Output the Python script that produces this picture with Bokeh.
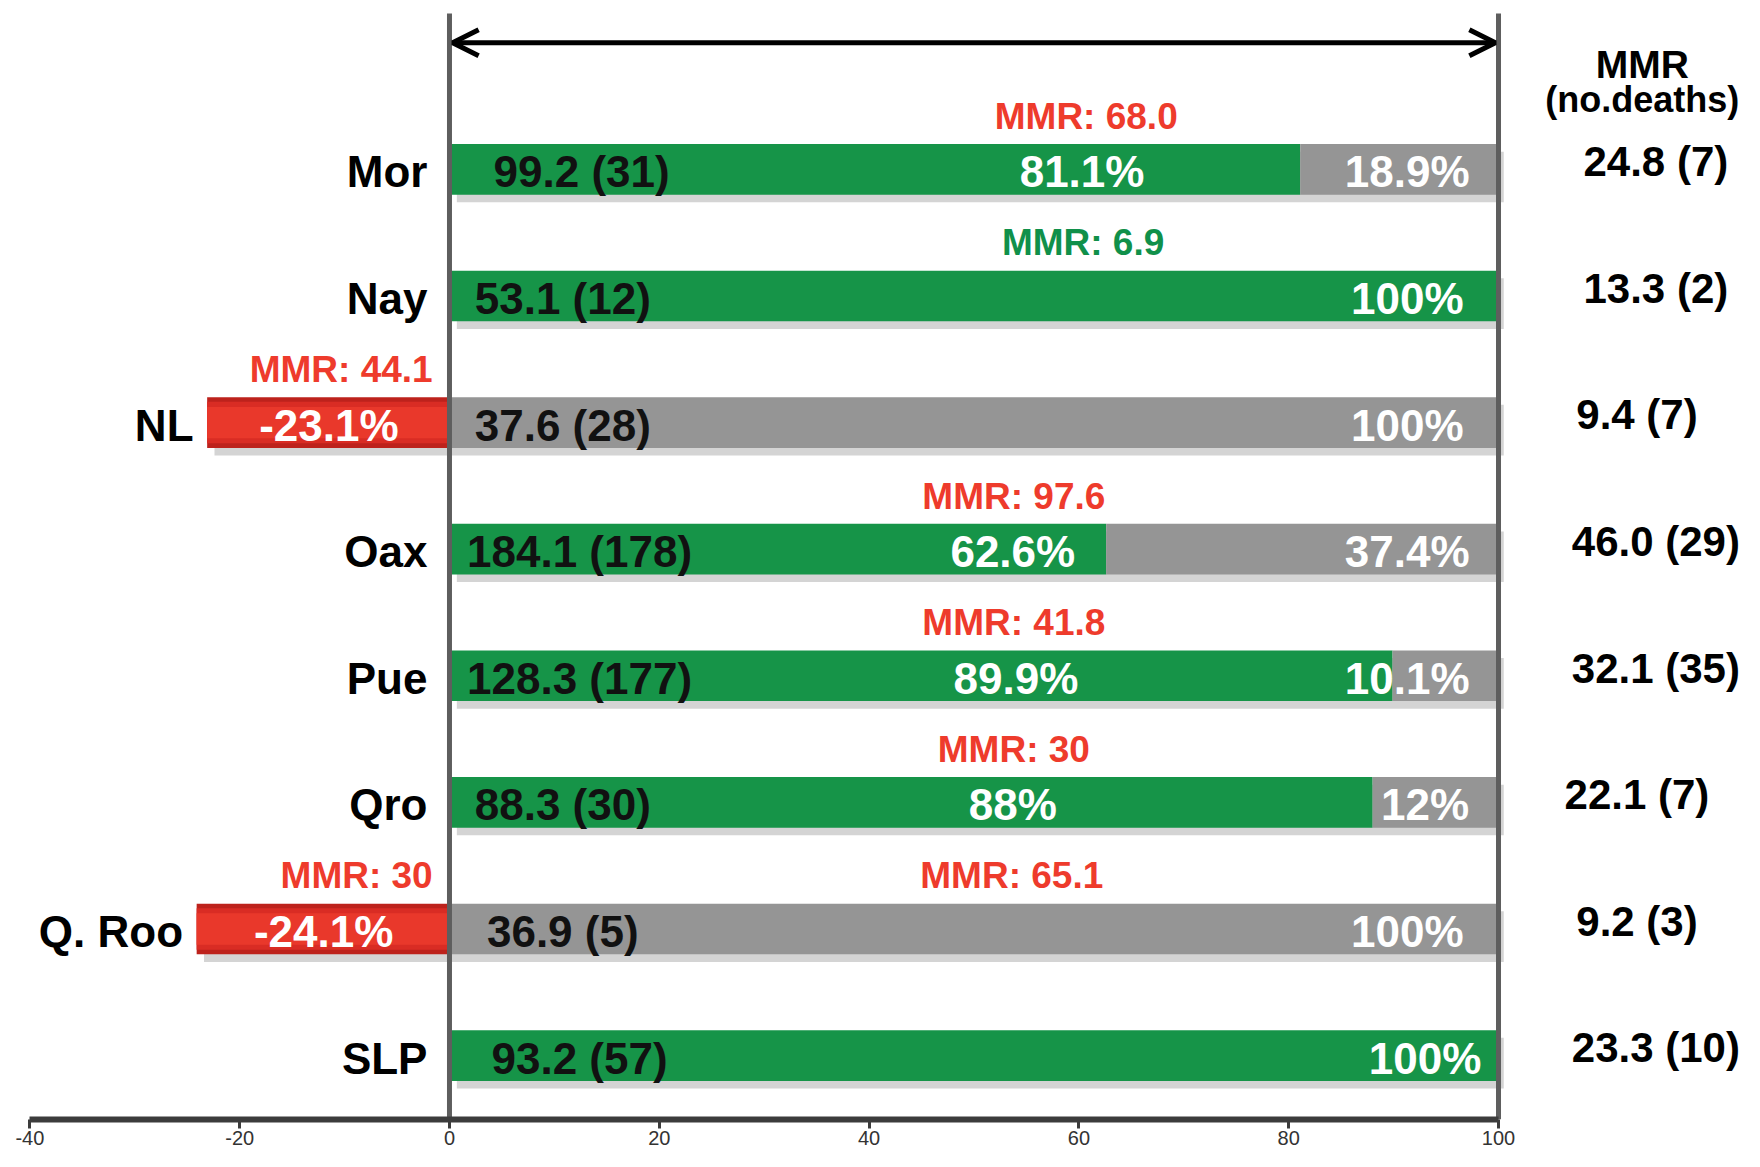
from bokeh.plotting import figure
from bokeh.models import ColumnDataSource, LinearAxis, FixedTicker, Arrow, OpenHead, Range1d
from bokeh.core.properties import value
from bokeh.embed import file_html
from bokeh.resources import INLINE

# ---------------- data ----------------
states = ["Mor", "Nay", "NL", "Oax", "Pue", "Qro", "Q. Roo", "SLP"]
mmr_bar = [99.2, 53.1, 37.6, 184.1, 128.3, 88.3, 36.9, 93.2]
deaths_bar = [31, 12, 28, 178, 177, 30, 5, 57]
green_pct = [81.1, 100, 0, 62.6, 89.9, 88, 0, 100]
gray_pct = [18.9, 0, 100, 37.4, 10.1, 12, 100, 0]
red_pct = [0, 0, -23.1, 0, 0, 0, -24.1, 0]
mmr_mid = ["68.0", "6.9", None, "97.6", "41.8", "30", "65.1", None]
mmr_mid_good = [False, True, False, False, False, False, False, False]
mmr_left = [None, None, "44.1", None, None, None, "30", None]
mmr_right = ["24.8", "13.3", "9.4", "46.0", "32.1", "22.1", "9.2", "23.3"]
deaths_right = [7, 2, 7, 29, 35, 7, 3, 10]
x_ticks = [-40, -20, 0, 20, 40, 60, 80, 100]
scale_min, scale_max = 0, 100

# ---------------- layout (label positions, not data) ----------------
inner_label_x = [12.6, 10.8, 10.8, 12.4, 12.4, 10.8, 10.8, 12.4]
green_label_x = [60.3, None, None, 53.7, 54.0, 53.7, None, None]
right_label_x = [91.3, 91.3, 91.3, 91.3, 91.3, 93.0, 91.3, 93.0]
mid_mmr_x = [60.7, 60.4, None, 53.8, 53.8, 53.8, 53.6, None]
right_col_x = [115.0, 115.0, 113.2, 115.0, 115.0, 113.2, 113.2, 115.0]

GREEN = "#169448"
GRAY = "#959595"
RED = "#e9382b"
RED_DARK = "#bd221c"
TXT_RED = "#ee3b2c"
TXT_GREEN = "#10904a"
SHADOW = "#d4d4d4"

W, H = 1744, 1151
n = len(states)
ys = [n - 1 - i for i in range(n)]
bar_h = 0.40
y_bottom, y_top_line = -0.505, 8.231


def pct(v):
    s = f"{v:.1f}"
    if s.endswith(".0"):
        s = s[:-2]
    return s + "%"


p = figure(width=W, height=H, output_backend="svg", toolbar_location=None,
           x_range=Range1d(-42.80, 123.45), y_range=Range1d(y_bottom, 8.334),
           x_axis_type=None, y_axis_type=None,
           min_border_left=0, min_border_right=0, min_border_top=0, min_border_bottom=32)
p.outline_line_color = None
p.background_fill_color = "white"
p.border_fill_color = "white"

# --------------- bars ----------------
g_src = dict(left=[], right=[], y=[])
gr_src = dict(left=[], right=[], y=[])
r_src = dict(left=[], right=[], y=[])
for i in range(n):
    if green_pct[i] > 0:
        g_src["left"].append(0); g_src["right"].append(green_pct[i]); g_src["y"].append(ys[i])
    if gray_pct[i] > 0:
        gr_src["left"].append(green_pct[i]); gr_src["right"].append(green_pct[i] + gray_pct[i]); gr_src["y"].append(ys[i])
    if red_pct[i] < 0:
        r_src["left"].append(red_pct[i]); r_src["right"].append(0); r_src["y"].append(ys[i])

# shadows
sh_left = [min(0, r) + 0.7 for r in red_pct]
sh_right = [g + gr + 0.5 for g, gr in zip(green_pct, gray_pct)]
p.quad(left=sh_left, right=sh_right, bottom=[y - bar_h / 2 - 0.06 for y in ys],
       top=[y + bar_h / 2 - 0.06 for y in ys], fill_color=SHADOW, line_color=None)

for src, col in ((g_src, GREEN), (gr_src, GRAY)):
    s = ColumnDataSource(src)
    p.hbar(y="y", left="left", right="right", height=bar_h, source=s, fill_color=col, line_color=None)

rs = ColumnDataSource(r_src)
p.hbar(y="y", left="left", right="right", height=bar_h, source=rs, fill_color=RED_DARK, line_color=None)
p.hbar(y="y", left="left", right="right", height=bar_h * 0.82, source=rs, fill_color="#d92c24", line_color=None)
p.hbar(y="y", left="left", right="right", height=bar_h * 0.62, source=rs, fill_color=RED, line_color=None)

# --------------- guide lines ----------------
p.segment(x0=[scale_min, scale_max], x1=[scale_min, scale_max], y0=[y_bottom, y_bottom],
          y1=[y_top_line, y_top_line], line_width=5, line_color="#5e5e5e")
arrow = Arrow(start=OpenHead(size=26, line_width=5, line_color="black"),
              end=OpenHead(size=26, line_width=5, line_color="black"),
              x_start=scale_min + 0.3, y_start=8.0, x_end=scale_max - 0.3, y_end=8.0,
              line_width=5, line_color="black")
p.add_layout(arrow)

BOLD = dict(text_font=value("Liberation Sans"), text_font_style="bold", text_baseline="middle")

# row labels
lab_x = [min(0, r) - (1.3 if r < 0 else 2.1) for r in red_pct]
p.text(x=lab_x, y=[y - 0.02 for y in ys], text=states, text_align="right",
       text_font_size="44px", text_color="black", **BOLD)

# inner MMR (deaths) labels
p.text(x=inner_label_x, y=[y - 0.02 for y in ys],
       text=[f"{m} ({d})" for m, d in zip(mmr_bar, deaths_bar)], text_align="center",
       text_font_size="44px", text_color="#111111", **BOLD)

# green-part percent labels
gx, gy, gt = [], [], []
for i in range(n):
    if 0 < green_pct[i] < 100:
        gx.append(green_label_x[i]); gy.append(ys[i] - 0.02); gt.append(pct(green_pct[i]))
p.text(x=gx, y=gy, text=gt, text_align="center", text_font_size="44px", text_color="white", **BOLD)

# right-part percent labels
rx, ry, rt = [], [], []
for i in range(n):
    v = gray_pct[i] if gray_pct[i] > 0 else green_pct[i]
    rx.append(right_label_x[i]); ry.append(ys[i] - 0.02); rt.append(pct(v))
p.text(x=rx, y=ry, text=rt, text_align="center", text_font_size="44px", text_color="white", **BOLD)

# red percent labels
nx, ny, nt = [], [], []
for i in range(n):
    if red_pct[i] < 0:
        nx.append(red_pct[i] / 2 + 0.05); ny.append(ys[i] - 0.02); nt.append(pct(red_pct[i]))
p.text(x=nx, y=ny, text=nt, text_align="center", text_font_size="44px", text_color="white", **BOLD)

# MMR labels above bars
mx, my, mt, mc = [], [], [], []
for i in range(n):
    if mmr_mid[i] is not None:
        mx.append(mid_mmr_x[i]); my.append(ys[i] + 0.42); mt.append(f"MMR: {mmr_mid[i]}")
        mc.append(TXT_GREEN if mmr_mid_good[i] else TXT_RED)
p.text(x=mx, y=my, text=mt, text_color=mc, text_align="center", text_font_size="37px", **BOLD)

lx, ly, lt = [], [], []
for i in range(n):
    if mmr_left[i] is not None:
        lx.append(-1.6); ly.append(ys[i] + 0.42); lt.append(f"MMR: {mmr_left[i]}")
p.text(x=lx, y=ly, text=lt, text_color=TXT_RED, text_align="right", text_font_size="37px", **BOLD)

# right column
p.text(x=right_col_x, y=[y + 0.06 for y in ys],
       text=[f"{m} ({d})" for m, d in zip(mmr_right, deaths_right)],
       text_align="center", text_font_size="42px", text_color="black", **BOLD)
p.text(x=[113.7], y=[7.83], text=["MMR"], text_align="center", text_font_size="39px",
       text_color="black", **BOLD)
p.text(x=[113.7], y=[7.555], text=["(no.deaths)"], text_align="center", text_font_size="36px",
       text_color="black", **BOLD)

# --------------- x axis ----------------
ax = LinearAxis(ticker=FixedTicker(ticks=x_ticks), bounds=(-40, 100))
ax.axis_line_width = 6
ax.axis_line_color = "#3c3c3c"
ax.major_tick_line_width = 3
ax.major_tick_line_color = "#3c3c3c"
ax.major_tick_out = 9
ax.major_tick_in = 0
ax.minor_tick_line_color = None
ax.major_label_standoff = 2
ax.major_label_overrides = {t: str(t) for t in x_ticks}
ax.major_label_text_font = "Liberation Sans"
ax.major_label_text_font_size = "20px"
ax.major_label_text_color = "#333333"
p.add_layout(ax, "below")

open("out.html", "w").write(file_html(p, INLINE))
